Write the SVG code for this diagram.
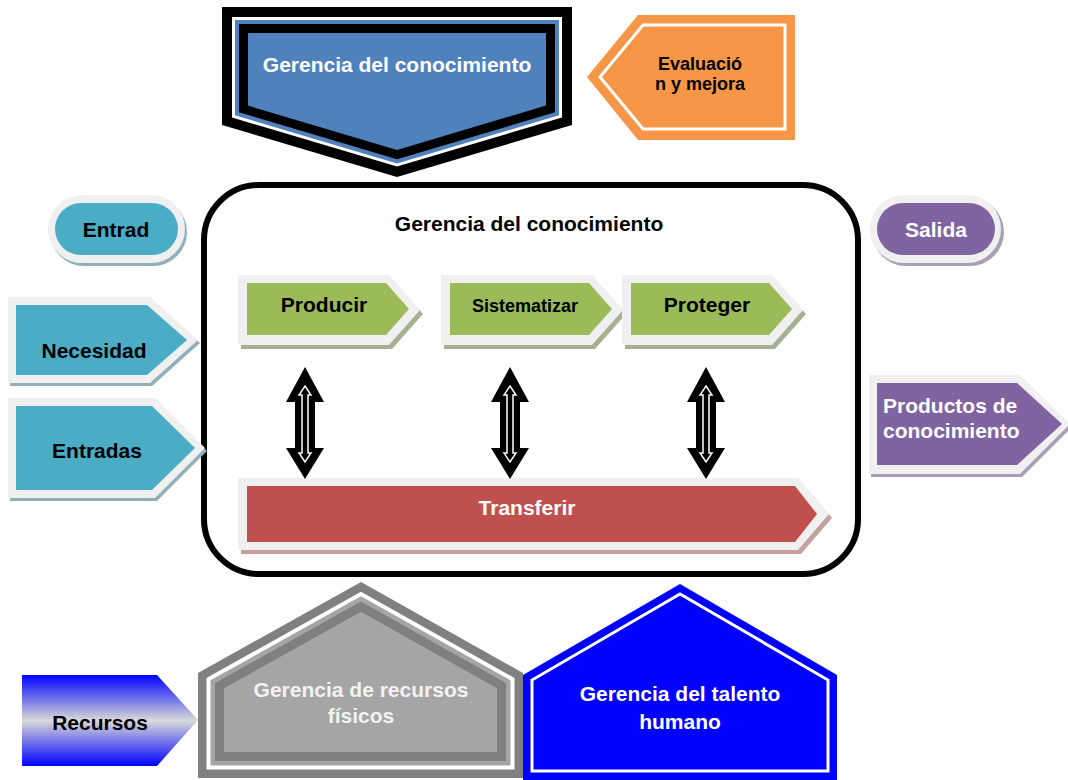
<svg xmlns="http://www.w3.org/2000/svg" xmlns:xlink="http://www.w3.org/1999/xlink" width="1068" height="780" viewBox="0 0 1068 780">
  <style>
    text { font-family: "Liberation Sans", Arial, sans-serif; font-weight: bold; }
    .t21 { font-size: 21px; }
    .t18 { font-size: 18px; }
    .mid { text-anchor: middle; }
    .blk { fill: #000000; }
    .wht { fill: #ffffff; }
    .band { fill: #f0f0f0; }
    .teal { fill: #4bacc6; }
    .teal-sh { fill: #8fb0ba; }
    .green { fill: #9bbb59; }
    .green-sh { fill: #a7b191; }
    .red { fill: #c0504d; }
    .red-sh { fill: #c6a09f; }
    .purple { fill: #8064a2; }
    .purple-sh { fill: #a89fb6; }
  </style>
  <defs>
    <linearGradient id="gradRecursos" x1="0" y1="0" x2="0" y2="1">
      <stop offset="0" stop-color="#0000ff"/>
      <stop offset="0.5" stop-color="#d9d9d9"/>
      <stop offset="1" stop-color="#0000ff"/>
    </linearGradient>
    <!-- two-way vertical arrow, centred on x = 0 -->
    <g id="twoWay">
      <polygon points="0,367 19,402 10,402 10,448 19,448 0,479 -19,448 -10,448 -10,402 -19,402" fill="#000000"/>
      <polygon points="0,386 6,395 3,395 3,453 6,453 0,462 -6,453 -3,453 -3,395 -6,395" fill="#000000" stroke="#ffffff" stroke-width="1.5"/>
    </g>
  </defs>

  <rect width="1068" height="780" fill="#ffffff"/>

  <!-- top: knowledge management banner -->
  <g id="node-gerencia-top">
    <polygon points="222,7 572,7 572,125 397,177 222,125" fill="#000000"/>
    <polygon points="232,17 562,17 562,117.5 397,166.6 232,117.5" fill="#ffffff"/>
    <polygon points="235,20 559,20 559,115.3 397,163.4 235,115.3" fill="#4f81bd"/>
    <polygon points="239,24 555,24 555,112.3 397,159.3 239,112.3" fill="#000000"/>
    <polygon points="248,33 546,33 546,105.6 397,149.9 248,105.6" fill="#4f81bd"/>
    <text class="t21 mid wht" x="397" y="72">Gerencia del conocimiento</text>
  </g>

  <!-- top right: evaluation -->
  <g id="node-evaluacion">
    <polygon points="587,77 638,15 795,15 795,140 638,140" fill="#f79646"/>
    <polygon points="600,77 643,25 785,25 785,129 643,129" fill="none" stroke="#ffffff" stroke-width="3"/>
    <text class="t18 mid blk" x="700" y="70">Evaluació</text>
    <text class="t18 mid blk" x="700" y="90">n y mejora</text>
  </g>

  <!-- central process box -->
  <g id="node-proceso">
    <rect x="204" y="185" width="654" height="389" rx="55" ry="55" fill="#ffffff" stroke="#000000" stroke-width="6"/>
    <text class="t21 mid blk" x="529" y="231">Gerencia del conocimiento</text>
  </g>

  <g id="node-producir">
    <polygon points="241,279 392,279 423,314 392,349 241,349" class="green-sh"/>
    <polygon points="238,275 389,275 420,310 389,345 238,345" class="band"/>
    <polygon points="247,283 386,283 409,309 386,335 247,335" class="green"/>
    <text class="t21 mid blk" x="324" y="312">Producir</text>
  </g>

  <g id="node-sistematizar">
    <polygon points="444,279 595,279 626,314 595,349 444,349" class="green-sh"/>
    <polygon points="441,275 592,275 623,310 592,345 441,345" class="band"/>
    <polygon points="450,283 589,283 612,309 589,335 450,335" class="green"/>
    <text class="t18 mid blk" x="525" y="312">Sistematizar</text>
  </g>

  <g id="node-proteger">
    <polygon points="625,279 775,279 806,314 775,349 625,349" class="green-sh"/>
    <polygon points="622,275 772,275 803,310 772,345 622,345" class="band"/>
    <polygon points="631,283 769,283 792,309 769,335 631,335" class="green"/>
    <text class="t21 mid blk" x="707" y="312">Proteger</text>
  </g>

  <g id="node-transferir">
    <polygon points="241,482 801,482 832,518 801,554 241,554" class="red-sh"/>
    <polygon points="238,478 798,478 829,514 798,550 238,550" class="band"/>
    <polygon points="247,486 795,486 817,514 795,542 247,542" class="red"/>
    <text class="t21 mid wht" x="527" y="515">Transferir</text>
  </g>

  <!-- two-way links between each step and the transfer bar -->
  <g id="connectors">
    <use xlink:href="#twoWay" href="#twoWay" x="305"/>
    <use xlink:href="#twoWay" href="#twoWay" x="510"/>
    <use xlink:href="#twoWay" href="#twoWay" x="706"/>
  </g>

  <!-- left side: inputs -->
  <g id="node-entrad">
    <rect x="50" y="198" width="137" height="68" rx="34" class="teal-sh"/>
    <rect x="48" y="195" width="137" height="68" rx="34" class="band"/>
    <rect x="55" y="203" width="123" height="52" rx="26" class="teal"/>
    <text class="t21 mid blk" x="116" y="237">Entrad</text>
  </g>

  <g id="node-necesidad">
    <polygon points="10,300 152,300 200,343 152,386 10,386" class="teal-sh"/>
    <polygon points="8,297 150,297 198,340 150,383 8,383" class="band"/>
    <polygon points="16,305 147,305 187,340 147,375 16,375" class="teal"/>
    <text class="t21 mid blk" x="94" y="358">Necesidad</text>
  </g>

  <g id="node-entradas">
    <polygon points="10,401 157,401 207,451 157,501 10,501" class="teal-sh"/>
    <polygon points="8,398 155,398 205,448 155,498 8,498" class="band"/>
    <polygon points="16,406 152,406 195,448 152,490 16,490" class="teal"/>
    <text class="t21 mid blk" x="97" y="458">Entradas</text>
  </g>

  <!-- right side: outputs -->
  <g id="node-salida">
    <rect x="872" y="198" width="132" height="68" rx="34" class="purple-sh"/>
    <rect x="870" y="195" width="131" height="68" rx="34" class="band"/>
    <rect x="877" y="203" width="118" height="52" rx="26" class="purple"/>
    <text class="t21 mid wht" x="936" y="237">Salida</text>
  </g>

  <g id="node-productos">
    <polygon points="871,378 1022,378 1072,427 1022,477 871,477" class="purple-sh"/>
    <polygon points="869,375 1020,375 1070,424 1020,474 869,474" class="band"/>
    <polygon points="877,383 1017,383 1062,424 1017,465 877,465" class="purple"/>
    <text class="t21 wht" x="883" y="413">Productos de</text>
    <text class="t21 wht" x="883" y="438">conocimiento</text>
  </g>

  <!-- bottom: resources -->
  <g id="node-recursos">
    <polygon points="22,675 157,675 198,720 157,766 22,766" fill="url(#gradRecursos)"/>
    <text class="t21 mid blk" x="100" y="730">Recursos</text>
  </g>

  <g id="node-recursos-fisicos">
    <polygon points="198,778 198,673 361,582 523,673 523,778" fill="#808080"/>
    <polygon points="206.5,769.5 206.5,678 361,591.7 514.5,678 514.5,769.5" fill="#ffffff"/>
    <polygon points="210.5,765.5 210.5,680.3 361,596.3 510.5,680.3 510.5,765.5" fill="#a5a5a5"/>
    <polygon points="215,761 215,683 361,601.5 506,683 506,761" fill="#808080"/>
    <polygon points="224,752 224,688.3 361,611.8 497,688.3 497,752" fill="#a5a5a5"/>
    <text class="t21 mid" x="361" y="697" fill="#f2f2f2">Gerencia de recursos</text>
    <text class="t21 mid" x="361" y="723" fill="#f2f2f2">físicos</text>
  </g>

  <g id="node-talento-humano">
    <polygon points="523,780 523,675 680,584 837,675 837,780" fill="#0000ff"/>
    <polygon points="532,771 532,680 680,594 828,680 828,771" fill="none" stroke="#ffffff" stroke-width="3"/>
    <text class="t21 mid wht" x="680" y="701">Gerencia del talento</text>
    <text class="t21 mid wht" x="680" y="729">humano</text>
  </g>
</svg>
